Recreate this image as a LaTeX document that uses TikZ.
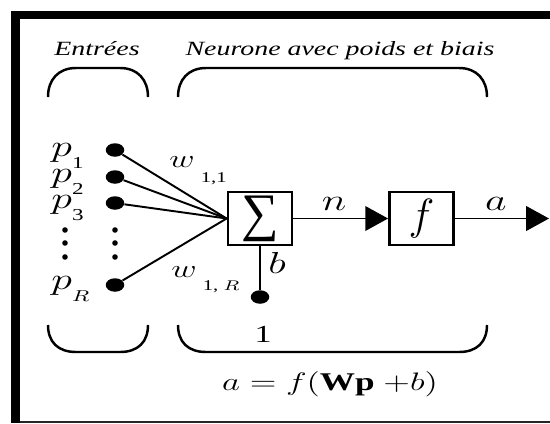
\documentclass[tikz,border=0pt]{standalone}
\usepackage{graphicx}
\usepackage{fontspec}
\setmainfont{Liberation Serif}
\usetikzlibrary{shapes.geometric,arrows.meta}

\newcommand{\lowsub}[3]{\raisebox{-#1}{\fontsize{#2}{#2}\selectfont #3}}

\begin{document}
\begin{tikzpicture}[x=0.02cm,y=-0.02cm,
    circ/.style={shape=ellipse, fill, inner sep=0pt, minimum width=0.37cm, minimum height=0.27cm},
    blk/.style={draw, line width=1.6pt, inner sep=0pt, minimum width=1.28cm, minimum height=1.06cm},
    txt/.style={xscale=1.38, inner sep=0pt},
    brc/.style={line width=1.4pt},
    wire/.style={line width=1.1pt},
    tip/.style={-{Triangle[length=13pt,width=14pt]}}]

    \useasboundingbox (0,0) rectangle (550,423);
    % frame
    \fill (11,11) rectangle (20,423);
    \fill (11,11) rectangle (550,19);
    \fill[black!85] (20,421) rectangle (550,423);

    \node[txt,anchor=base,font=\fontsize{11.5}{13}\selectfont\itshape] (entrees) at (97,55) {Entrées};
    \node[txt,anchor=base,font=\fontsize{11.5}{13}\selectfont\itshape] (neurone) at (340,55) {Neurone avec poids et biais};

    % braces
    \draw[brc] (48,97) .. controls (48,80) and (58,68) .. (76,68) -- (120,68) .. controls (138,68) and (148,80) .. (148,97);
    \draw[brc] (178,97) .. controls (178,80) and (188,68) .. (206,68) -- (459,68) .. controls (477,68) and (487,80) .. (487,97);
    \draw[brc] (48,325) .. controls (48,342) and (58,352) .. (76,352) -- (120,352) .. controls (138,352) and (148,342) .. (148,325);
    \draw[brc] (178,325) .. controls (178,342) and (188,352) .. (206,352) -- (459,352) .. controls (477,352) and (487,342) .. (487,325);

    % inputs
    \node[circ] (in1) at (115,150) {};
    \node[circ] (in2) at (115,177) {};
    \node[circ] (in3) at (115,203) {};
    \node[circ] (inR) at (115,285) {};
    \foreach \y in {230,243,257} {
      \fill (65,\y) circle (2.8);
      \fill (115,\y) circle (2.8);
    }
    \node[txt,anchor=base west,font=\fontsize{16}{16}\selectfont] (lp1) at (51,156) {$p$\lowsub{7pt}{9.5}{1}};
    \node[txt,anchor=base west,font=\fontsize{16}{16}\selectfont] (lp2) at (51,182) {$p$\lowsub{7pt}{9.5}{2}};
    \node[txt,anchor=base west,font=\fontsize{16}{16}\selectfont] (lp3) at (51,208) {$p$\lowsub{7pt}{9.5}{3}};
    \node[txt,anchor=base west,font=\fontsize{16}{16}\selectfont] (lpR) at (51,289) {$p$\lowsub{7pt}{9}{$R$}};

    % neuron
    \node[blk] (sum) at (260,218.5) {\fontsize{30}{30}\selectfont ∑};
    \node[blk] (act) at (421.5,218.5) {\fontsize{24}{24}\selectfont$f$};
    \node[circ] (bias) at (260,297) {};
    \coordinate (out) at (549,218.5);

    \foreach \i in {in1,in2,in3,inR}
      \draw[wire] (\i) -- (sum.west);
    \draw[wire] (sum) -- (bias);
    \draw[wire,tip] (sum) -- (act);
    \draw[wire,tip] (act) -- (out);

    \node[txt,anchor=base west,font=\fontsize{15}{15}\selectfont] (w11) at (169,167) {$w$\hspace{2.5pt}\lowsub{9pt}{8.5}{1,1}};
    \node[txt,anchor=base west,font=\fontsize{15}{15}\selectfont] (w1R) at (171,277) {$w$\hspace{2.5pt}\lowsub{7.5pt}{8.5}{1, $R$}};
    \node[txt,anchor=base,font=\fontsize{16}{16}\selectfont] (ln) at (334,210) {$n$};
    \node[txt,anchor=base,font=\fontsize{16}{16}\selectfont] (la) at (496,210) {$a$};
    \node[txt,anchor=base,font=\fontsize{16}{16}\selectfont] (lb) at (277,273) {$b$};
    \node[txt,anchor=base,font=\fontsize{14}{14}\selectfont] (lone) at (263,342) {1};
    \node[txt,anchor=base,font=\fontsize{14.5}{15}\selectfont] (formula) at (330,390) {$a = f(\mathbf{Wp}\ {+}b)$};
\end{tikzpicture}
\end{document}
